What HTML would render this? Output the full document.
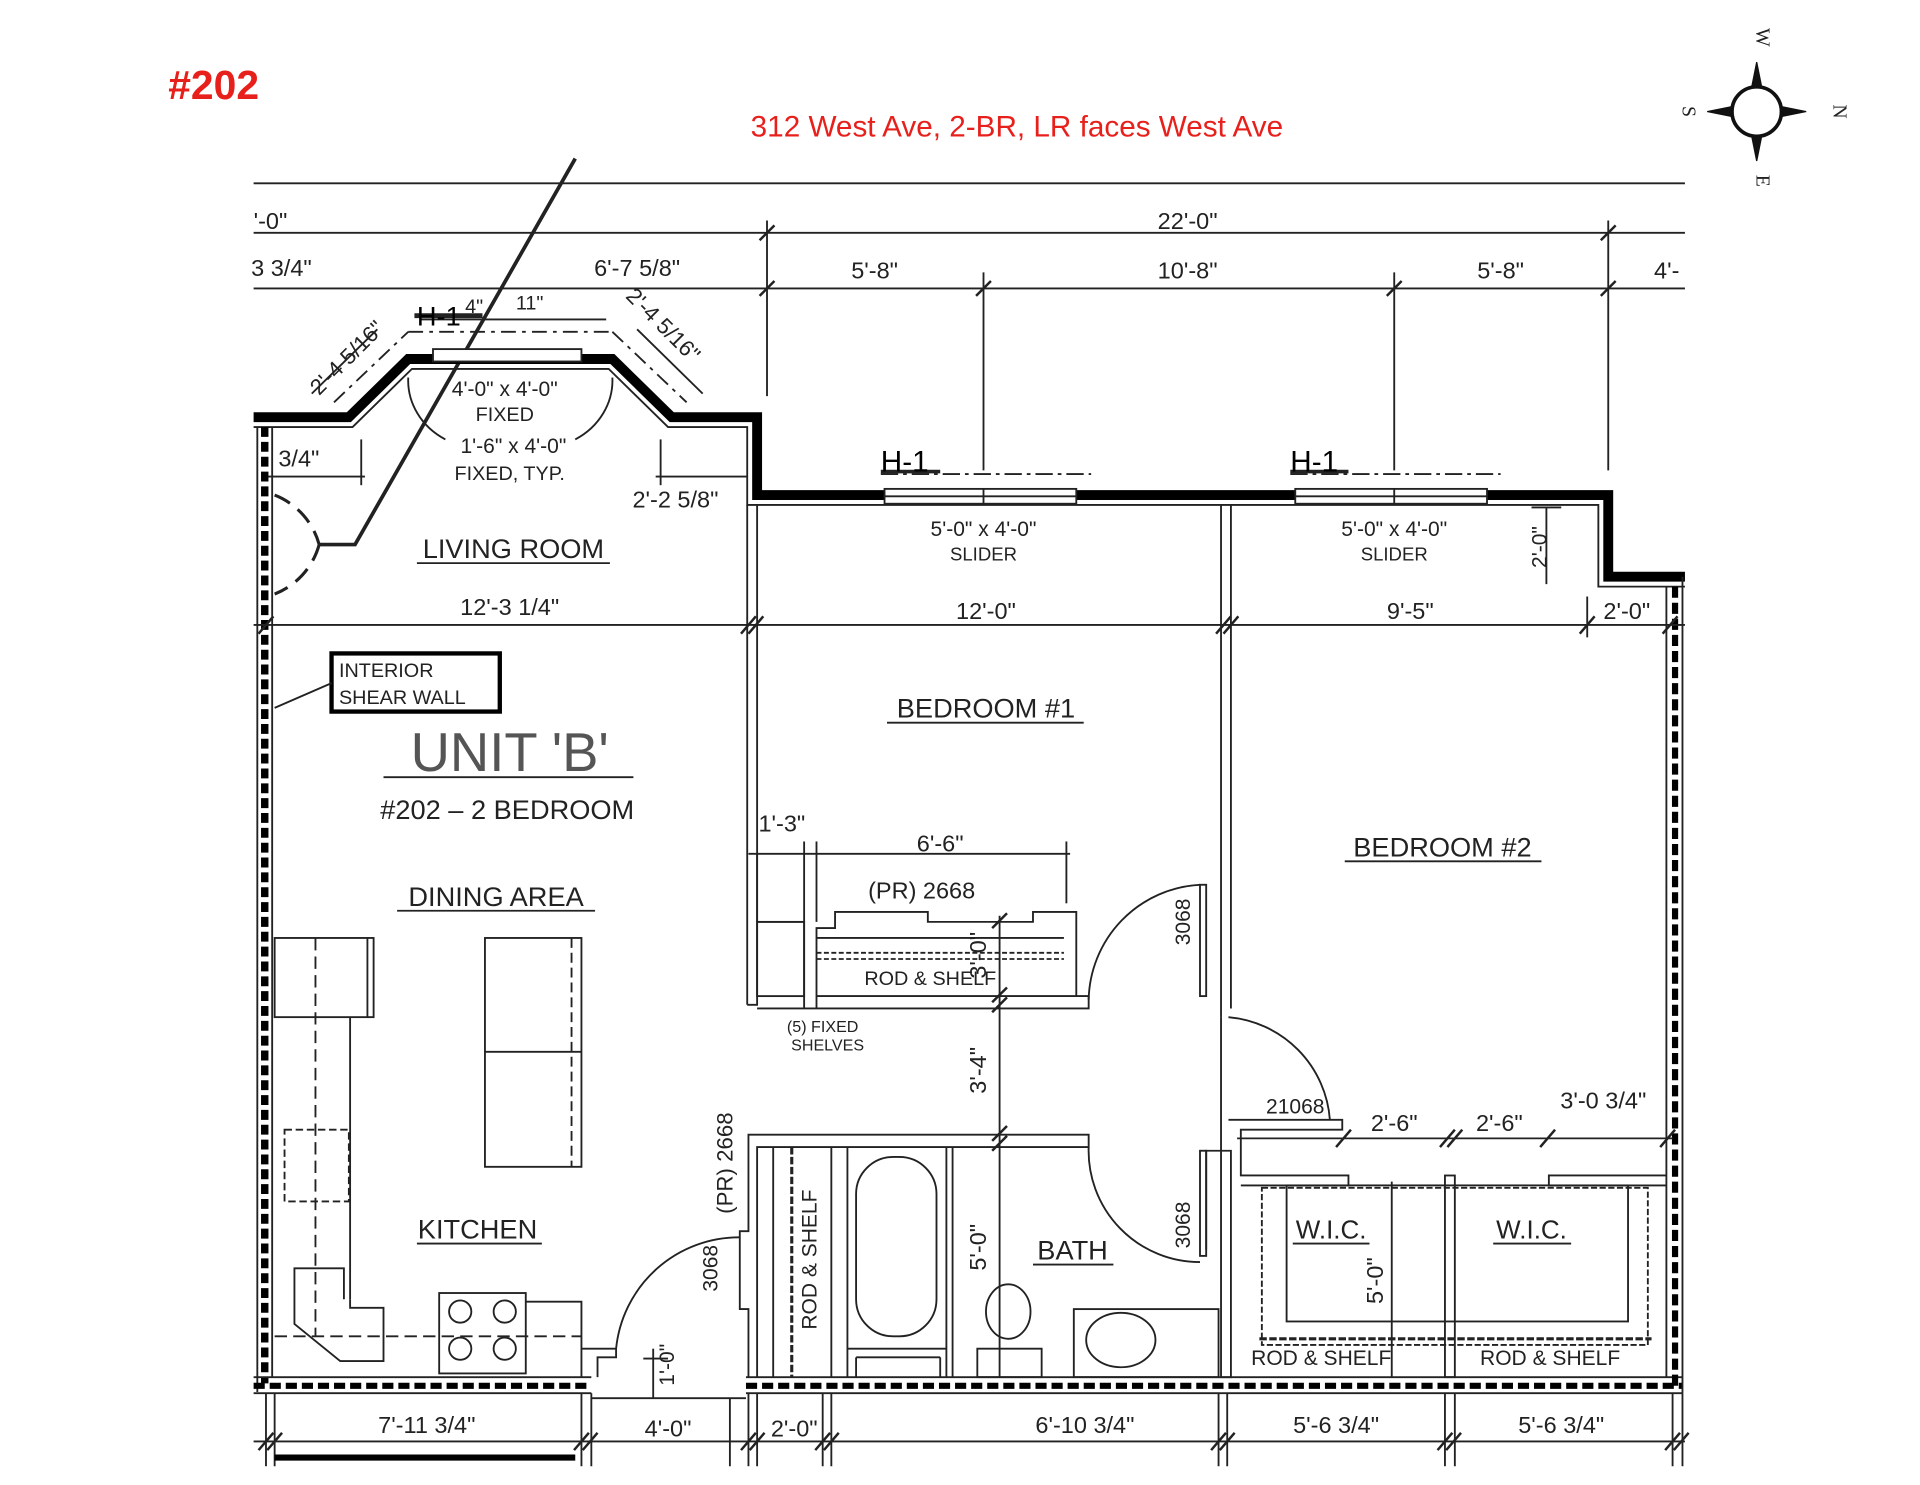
<!DOCTYPE html>
<html><head><meta charset="utf-8"><style>
html,body{margin:0;padding:0;background:#fff;}
svg{display:block;}
text{font-family:"Liberation Sans",sans-serif;fill:#222;}
</style></head><body>
<svg width="1920" height="1485" viewBox="0 0 1552 1200" xmlns="http://www.w3.org/2000/svg">
<rect width="1552" height="1200" fill="#fff"/>
<!-- header -->
<text x="136" y="80" font-size="33" font-weight="bold" style="fill:#e8201c">#202</text>
<text x="822" y="110" font-size="24" text-anchor="middle" style="fill:#e8201c">312 West Ave, 2-BR, LR faces West Ave</text>
<!-- compass -->
<g stroke="#111" fill="#111">
<circle cx="1420" cy="90" r="20" fill="none" stroke-width="3"/>
<polygon points="1420,50 1416,70 1424,70"/><polygon points="1420,130 1416,110 1424,110"/>
<polygon points="1380,90 1400,86 1400,94"/><polygon points="1460,90 1440,86 1440,94"/>
</g>
<text x="1420" y="30" font-size="16" text-anchor="middle" transform="rotate(90 1420 30)" style="font-family:'Liberation Serif',serif">W</text>
<text x="1420" y="146" font-size="16" text-anchor="middle" transform="rotate(90 1420 146)" style="font-family:'Liberation Serif',serif">E</text>
<text x="1360" y="90" font-size="16" text-anchor="middle" transform="rotate(90 1360 90)" style="font-family:'Liberation Serif',serif">S</text>
<text x="1482" y="90" font-size="16" text-anchor="middle" transform="rotate(90 1482 90)" style="font-family:'Liberation Serif',serif">N</text>

<g stroke="#222" stroke-width="1.5" fill="none">
<line x1="205" y1="148" x2="1362" y2="148"/>
<line x1="205" y1="188" x2="1362" y2="188"/>
<line x1="205" y1="233" x2="1362" y2="233"/>
<line x1="620" y1="178" x2="620" y2="320"/>
<line x1="795" y1="220" x2="795" y2="380"/>
<line x1="1127" y1="220" x2="1127" y2="380"/>
<line x1="1300" y1="178" x2="1300" y2="380"/>
<g stroke-width="2">
<line x1="614" y1="194" x2="626" y2="182"/><line x1="1294" y1="194" x2="1306" y2="182"/>
<line x1="614" y1="239" x2="626" y2="227"/><line x1="789" y1="239" x2="801" y2="227"/>
<line x1="1121" y1="239" x2="1133" y2="227"/><line x1="1294" y1="239" x2="1306" y2="227"/>
</g>
<polyline points="465,128 287,440 258,440" stroke-width="3"/>
<polyline points="205,337 282,337 330,290 495,290 543,337 612,337 612,400 1300,400 1300,466 1362,466" stroke="#000" stroke-width="8"/>
<polyline points="205,345 285,345 333,298 492,298 540,345 604,345 604,408 1292,408 1292,474 1362,474" stroke-width="1.5"/>
<line x1="330" y1="268" x2="495" y2="268" stroke-dasharray="12,5,3,5"/>
<line x1="270" y1="325" x2="330" y2="268" stroke-dasharray="12,5,3,5"/>
<line x1="495" y1="268" x2="555" y2="325" stroke-dasharray="12,5,3,5"/>
<line x1="252" y1="318" x2="305" y2="266"/><line x1="515" y1="266" x2="568" y2="318"/>
<line x1="340" y1="258" x2="490" y2="258"/>
<path d="M330,305 A60,55 0 0 0 360,355 M465,355 A60,55 0 0 0 495,305"/>
<rect x="350" y="282" width="120" height="10" fill="#fff"/>
<rect x="715" y="395" width="155" height="12" fill="#fff"/>
<line x1="715" y1="401" x2="870" y2="401"/><line x1="795" y1="395" x2="795" y2="407"/>
<rect x="1047" y="395" width="155" height="12" fill="#fff"/>
<line x1="1047" y1="401" x2="1202" y2="401"/><line x1="1127" y1="395" x2="1127" y2="407"/>
<line x1="712" y1="383" x2="882" y2="383" stroke-dasharray="14,4,3,4"/>
<line x1="1043" y1="383" x2="1213" y2="383" stroke-dasharray="14,4,3,4"/>
<line x1="712" y1="381" x2="760" y2="381" stroke-width="3"/>
<line x1="1043" y1="381" x2="1090" y2="381" stroke-width="3"/>
<line x1="335" y1="255" x2="390" y2="255" stroke-width="4"/>
<line x1="213" y1="385" x2="295" y2="385"/><line x1="292" y1="355" x2="292" y2="392"/>
<line x1="530" y1="385" x2="604" y2="385"/><line x1="534" y1="355" x2="534" y2="392"/>
<line x1="1250" y1="410" x2="1250" y2="472"/><line x1="1238" y1="410" x2="1262" y2="410"/>
<path d="M222,400 A60,60 0 0 1 258,440" stroke-dasharray="14,8" stroke-width="2.5"/>
<path d="M258,440 A60,60 0 0 1 222,480" stroke-dasharray="14,8" stroke-width="2.5"/>
<line x1="208" y1="345" x2="208" y2="1125"/><line x1="220" y1="345" x2="220" y2="1113"/>
<line x1="214" y1="345" x2="214" y2="1118" stroke="#000" stroke-width="6" stroke-dasharray="8,4"/>
<line x1="205" y1="1113" x2="478" y2="1113"/><line x1="205" y1="1126" x2="478" y2="1126"/>
<line x1="205" y1="1120" x2="478" y2="1120" stroke="#000" stroke-width="5" stroke-dasharray="9,4"/>
<line x1="603" y1="1113" x2="1360" y2="1113"/><line x1="603" y1="1126" x2="1360" y2="1126"/>
<line x1="603" y1="1120" x2="1360" y2="1120" stroke="#000" stroke-width="5" stroke-dasharray="9,4"/>
<line x1="1347" y1="474" x2="1347" y2="1113"/><line x1="1360" y1="466" x2="1360" y2="1126"/>
<line x1="1354" y1="474" x2="1354" y2="1120" stroke="#000" stroke-width="5" stroke-dasharray="9,4"/>
<line x1="604" y1="408" x2="604" y2="812"/><line x1="612" y1="408" x2="612" y2="745"/>
<line x1="987" y1="408" x2="987" y2="822"/><line x1="995" y1="408" x2="995" y2="815"/>
<rect x="970" y="715" width="5" height="90"/>
<line x1="205" y1="505" x2="1362" y2="505"/>
<g stroke-width="2">
<line x1="209" y1="512" x2="221" y2="498"/><line x1="599" y1="512" x2="611" y2="498"/><line x1="605" y1="512" x2="617" y2="498"/>
<line x1="983" y1="512" x2="995" y2="498"/><line x1="989" y1="512" x2="1001" y2="498"/><line x1="1277" y1="512" x2="1289" y2="498"/><line x1="1344" y1="512" x2="1356" y2="498"/>
</g>
<line x1="1283" y1="482" x2="1283" y2="515"/>
<rect x="268" y="528" width="136" height="47" stroke="#000" stroke-width="3.5"/>
<line x1="268" y1="552" x2="222" y2="572"/>
<line x1="310" y1="628" x2="512" y2="628"/>
<line x1="605" y1="690" x2="865" y2="690"/>
<line x1="612" y1="690" x2="612" y2="745"/><line x1="650" y1="680" x2="650" y2="745"/><line x1="660" y1="680" x2="660" y2="745"/><line x1="862" y1="680" x2="862" y2="730"/>
<polyline points="612,745 650,745 650,815"/>
<polyline points="612,745 612,812 604,812"/>
<polyline points="660,815 660,750 675,750 675,737 750,737 750,745 835,745 835,737 870,737 870,805 880,805 880,815 612,815"/>
<rect x="612" y="745" width="38" height="60"/>
<line x1="660" y1="758" x2="860" y2="758"/>
<line x1="660" y1="770" x2="860" y2="770" stroke-dasharray="4,2"/>
<line x1="660" y1="775" x2="860" y2="775" stroke-dasharray="4,2"/>
<line x1="660" y1="805" x2="870" y2="805"/>
<line x1="808" y1="740" x2="808" y2="1113"/>
<g stroke-width="2"><line x1="802" y1="750" x2="814" y2="738"/><line x1="802" y1="818" x2="814" y2="806"/><line x1="802" y1="810" x2="814" y2="798"/><line x1="802" y1="930" x2="814" y2="918"/><line x1="802" y1="922" x2="814" y2="910"/></g>
<path d="M970,715 A95,95 0 0 0 880,808"/>
<path d="M993,822 A90,90 0 0 1 1075,905"/>
<path d="M880,927 A90,90 0 0 0 970,1020"/>
<path d="M598,1000 A100,100 0 0 0 498,1090"/>
<polyline points="605,1113 605,1058 598,1058 598,995 605,995 605,917 880,917 880,927 612,927 612,1113"/>
<line x1="625" y1="927" x2="625" y2="1113"/>
<line x1="640" y1="927" x2="640" y2="1113" stroke-dasharray="6,2" stroke-width="2.5"/>
<line x1="672" y1="927" x2="672" y2="1113"/><line x1="685" y1="927" x2="685" y2="1113"/>
<line x1="765" y1="927" x2="765" y2="1113"/><line x1="770" y1="927" x2="770" y2="1113"/>
<rect x="692" y="935" width="65" height="145" rx="30"/>
<line x1="685" y1="1090" x2="765" y2="1090"/><line x1="692" y1="1097" x2="760" y2="1097"/><line x1="692" y1="1097" x2="692" y2="1113"/><line x1="760" y1="1097" x2="760" y2="1113"/>
<ellipse cx="815" cy="1060" rx="18" ry="22"/>
<rect x="790" y="1090" width="52" height="23"/>
<rect x="868" y="1058" width="117" height="55"/>
<ellipse cx="906" cy="1083" rx="28" ry="22"/>
<polyline points="987,822 987,1113 995,1113 995,930 975,930 975,1010"/>
<rect x="970" y="930" width="5" height="85"/>
<polyline points="993,905 1085,905 1085,913 1003,913 1003,950 1090,950 1090,958 1003,958"/>
<rect x="1168" y="950" width="8" height="163"/>
<polyline points="1347,950 1252,950 1252,958 1347,958"/>
<rect x="1040" y="958" width="276" height="110"/>
<rect x="1020" y="960" width="312" height="127" stroke-dasharray="5,2"/>
<line x1="1018" y1="1082" x2="1335" y2="1082" stroke-dasharray="6,2" stroke-width="2.5"/>
<line x1="1125" y1="955" x2="1125" y2="1113"/>
<line x1="1000" y1="920" x2="1352" y2="920"/>
<g stroke-width="2"><line x1="1080" y1="927" x2="1092" y2="913"/><line x1="1164" y1="927" x2="1176" y2="913"/><line x1="1170" y1="927" x2="1182" y2="913"/><line x1="1245" y1="927" x2="1257" y2="913"/><line x1="1342" y1="927" x2="1354" y2="913"/></g>
<rect x="222" y="758" width="80" height="64"/><line x1="297" y1="758" x2="297" y2="822"/>
<line x1="255" y1="758" x2="255" y2="1080" stroke-dasharray="10,5"/>
<line x1="283" y1="822" x2="283" y2="1050"/>
<rect x="230" y="913" width="52" height="58" stroke-dasharray="6,3"/>
<rect x="392" y="758" width="78" height="185"/><line x1="392" y1="850" x2="470" y2="850"/>
<line x1="462" y1="758" x2="462" y2="943" stroke-dasharray="8,4"/>
<polyline points="283,1050 283,1057 310,1057 310,1100 275,1100 238,1070 238,1025 278,1025 278,1050"/>
<line x1="222" y1="1080" x2="470" y2="1080" stroke-dasharray="10,5"/>
<rect x="355" y="1045" width="70" height="65"/>
<circle cx="372" cy="1060" r="9"/><circle cx="408" cy="1060" r="9"/><circle cx="372" cy="1090" r="9"/><circle cx="408" cy="1090" r="9"/>
<polyline points="425,1052 470,1052 470,1113"/>
<polyline points="470,1090 498,1090 498,1097 483,1097 483,1113"/>
<line x1="205" y1="1165" x2="1362" y2="1165"/>
<line x1="590" y1="1130" x2="590" y2="1185"/>
<line x1="520" y1="1098" x2="540" y2="1098"/><line x1="528" y1="1090" x2="528" y2="1130"/>
<line x1="478" y1="1130" x2="603" y2="1130"/>
<line x1="215" y1="1126" x2="215" y2="1185"/><line x1="222" y1="1126" x2="222" y2="1185"/>
<line x1="470" y1="1126" x2="470" y2="1185"/><line x1="478" y1="1126" x2="478" y2="1185"/>
<line x1="605" y1="1126" x2="605" y2="1185"/><line x1="612" y1="1126" x2="612" y2="1185"/>
<line x1="665" y1="1126" x2="665" y2="1185"/><line x1="672" y1="1126" x2="672" y2="1185"/>
<line x1="985" y1="1126" x2="985" y2="1185"/><line x1="992" y1="1126" x2="992" y2="1185"/>
<line x1="1168" y1="1126" x2="1168" y2="1185"/><line x1="1176" y1="1126" x2="1176" y2="1185"/>
<line x1="1352" y1="1126" x2="1352" y2="1185"/><line x1="1360" y1="1126" x2="1360" y2="1185"/>
<g stroke-width="2">
<line x1="209" y1="1172" x2="221" y2="1158"/><line x1="216" y1="1172" x2="228" y2="1158"/>
<line x1="464" y1="1172" x2="476" y2="1158"/><line x1="471" y1="1172" x2="483" y2="1158"/>
<line x1="599" y1="1172" x2="611" y2="1158"/><line x1="606" y1="1172" x2="618" y2="1158"/>
<line x1="659" y1="1172" x2="671" y2="1158"/><line x1="666" y1="1172" x2="678" y2="1158"/>
<line x1="979" y1="1172" x2="991" y2="1158"/><line x1="986" y1="1172" x2="998" y2="1158"/>
<line x1="1162" y1="1172" x2="1174" y2="1158"/><line x1="1169" y1="1172" x2="1181" y2="1158"/>
<line x1="1346" y1="1172" x2="1358" y2="1158"/><line x1="1353" y1="1172" x2="1365" y2="1158"/>
</g>
<line x1="222" y1="1178" x2="465" y2="1178" stroke="#000" stroke-width="5"/>
<line x1="337" y1="455" x2="493" y2="455"/>
<line x1="717" y1="584" x2="876" y2="584"/>
<line x1="1087" y1="696" x2="1246" y2="696"/>
<line x1="321" y1="736" x2="481" y2="736"/>
<line x1="337" y1="1005" x2="438" y2="1005"/>
<line x1="835" y1="1022" x2="900" y2="1022"/>
<line x1="1045" y1="1005" x2="1107" y2="1005"/>
<line x1="1207" y1="1005" x2="1270" y2="1005"/>
</g>

<g font-size="19">
<text x="205" y="185">'-0"</text>
<text x="960" y="185" text-anchor="middle">22'-0"</text>
<text x="203" y="223">3 3/4"</text>
<text x="515" y="223" text-anchor="middle">6'-7 5/8"</text>
<text x="707" y="225" text-anchor="middle">5'-8"</text>
<text x="960" y="225" text-anchor="middle">10'-8"</text>
<text x="1213" y="225" text-anchor="middle">5'-8"</text>
<text x="1337" y="225">4'-</text>
<text x="376" y="253" font-size="16">4"</text><text x="417" y="250" font-size="16">11"</text>
<text x="258" y="320" font-size="18" transform="rotate(-45 258 320)">2'-4 5/16"</text>
<text x="505" y="240" font-size="18" transform="rotate(45 505 240)">2'-4 5/16"</text>
<text x="408" y="320" text-anchor="middle" font-size="17">4'-0" x 4'-0"</text>
<text x="408" y="340" text-anchor="middle" font-size="16">FIXED</text>
<text x="415" y="366" text-anchor="middle" font-size="17">1'-6" x 4'-0"</text>
<text x="412" y="388" text-anchor="middle" font-size="16">FIXED, TYP.</text>
<text x="225" y="377">3/4"</text>
<text x="546" y="410" text-anchor="middle">2'-2 5/8"</text>
<text x="415" y="451" text-anchor="middle" font-size="22">LIVING ROOM</text>
<text x="795" y="433" text-anchor="middle" font-size="17">5'-0" x 4'-0"</text>
<text x="795" y="453" text-anchor="middle" font-size="15">SLIDER</text>
<text x="1127" y="433" text-anchor="middle" font-size="17">5'-0" x 4'-0"</text>
<text x="1127" y="453" text-anchor="middle" font-size="15">SLIDER</text>
<text x="1250" y="442" text-anchor="middle" font-size="17" transform="rotate(-90 1250 442)">2'-0"</text>
<text x="412" y="497" text-anchor="middle">12'-3 1/4"</text>
<text x="797" y="500" text-anchor="middle">12'-0"</text>
<text x="1140" y="500" text-anchor="middle">9'-5"</text>
<text x="1315" y="500" text-anchor="middle">2'-0"</text>
<text x="274" y="547" font-size="16">INTERIOR</text>
<text x="274" y="569" font-size="16">SHEAR WALL</text>
<text x="412" y="623" text-anchor="middle" font-size="44" style="fill:#555">UNIT 'B'</text>
<text x="410" y="662" text-anchor="middle" font-size="22">#202 – 2 BEDROOM</text>
<text x="401" y="732" text-anchor="middle" font-size="22">DINING AREA</text>
<text x="797" y="580" text-anchor="middle" font-size="22">BEDROOM #1</text>
<text x="1166" y="692" text-anchor="middle" font-size="22">BEDROOM #2</text>
<text x="632" y="672" text-anchor="middle">1'-3"</text>
<text x="760" y="688" text-anchor="middle">6'-6"</text>
<text x="745" y="726" text-anchor="middle">(PR) 2668</text>
<text x="752" y="796" text-anchor="middle" font-size="16">ROD &amp; SHELF</text>
<text x="797" y="772" text-anchor="middle" transform="rotate(-90 797 772)">3'-0"</text>
<text x="797" y="865" text-anchor="middle" transform="rotate(-90 797 865)">3'-4"</text>
<text x="962" y="745" text-anchor="middle" font-size="17" transform="rotate(-90 962 745)">3068</text>
<text x="962" y="990" text-anchor="middle" font-size="17" transform="rotate(-90 962 990)">3068</text>
<text x="665" y="834" text-anchor="middle" font-size="13">(5) FIXED</text>
<text x="669" y="849" text-anchor="middle" font-size="13">SHELVES</text>
<text x="1047" y="900" text-anchor="middle" font-size="17">21068</text>
<text x="1127" y="914" text-anchor="middle">2'-6"</text>
<text x="1212" y="914" text-anchor="middle">2'-6"</text>
<text x="1296" y="896" text-anchor="middle">3'-0 3/4"</text>
<text x="386" y="1001" text-anchor="middle" font-size="22">KITCHEN</text>
<text x="867" y="1018" text-anchor="middle" font-size="22">BATH</text>
<text x="1076" y="1001" text-anchor="middle" font-size="21">W.I.C.</text>
<text x="1238" y="1001" text-anchor="middle" font-size="21">W.I.C.</text>
<text x="592" y="940" text-anchor="middle" font-size="18" transform="rotate(-90 592 940)">(PR) 2668</text>
<text x="580" y="1025" text-anchor="middle" font-size="17" transform="rotate(-90 580 1025)">3068</text>
<text x="660" y="1018" text-anchor="middle" font-size="17" transform="rotate(-90 660 1018)">ROD &amp; SHELF</text>
<text x="797" y="1008" text-anchor="middle" transform="rotate(-90 797 1008)">5'-0"</text>
<text x="1118" y="1035" text-anchor="middle" transform="rotate(-90 1118 1035)">5'-0"</text>
<text x="545" y="1103" text-anchor="middle" font-size="17" transform="rotate(-90 545 1103)">1'-0"</text>
<text x="1068" y="1103" text-anchor="middle" font-size="17">ROD &amp; SHELF</text>
<text x="1253" y="1103" text-anchor="middle" font-size="17">ROD &amp; SHELF</text>
<text x="345" y="1158" text-anchor="middle">7'-11 3/4"</text>
<text x="540" y="1161" text-anchor="middle">4'-0"</text>
<text x="642" y="1161" text-anchor="middle">2'-0"</text>
<text x="877" y="1158" text-anchor="middle">6'-10 3/4"</text>
<text x="1080" y="1158" text-anchor="middle">5'-6 3/4"</text>
<text x="1262" y="1158" text-anchor="middle">5'-6 3/4"</text>
</g>
<text x="712" y="381" font-size="24" style="fill:#000">H-1</text>
<text x="1043" y="381" font-size="24" style="fill:#000">H-1</text>
<text x="337" y="263" font-size="22" style="fill:#000">H-1</text>
</svg>
</body></html>
